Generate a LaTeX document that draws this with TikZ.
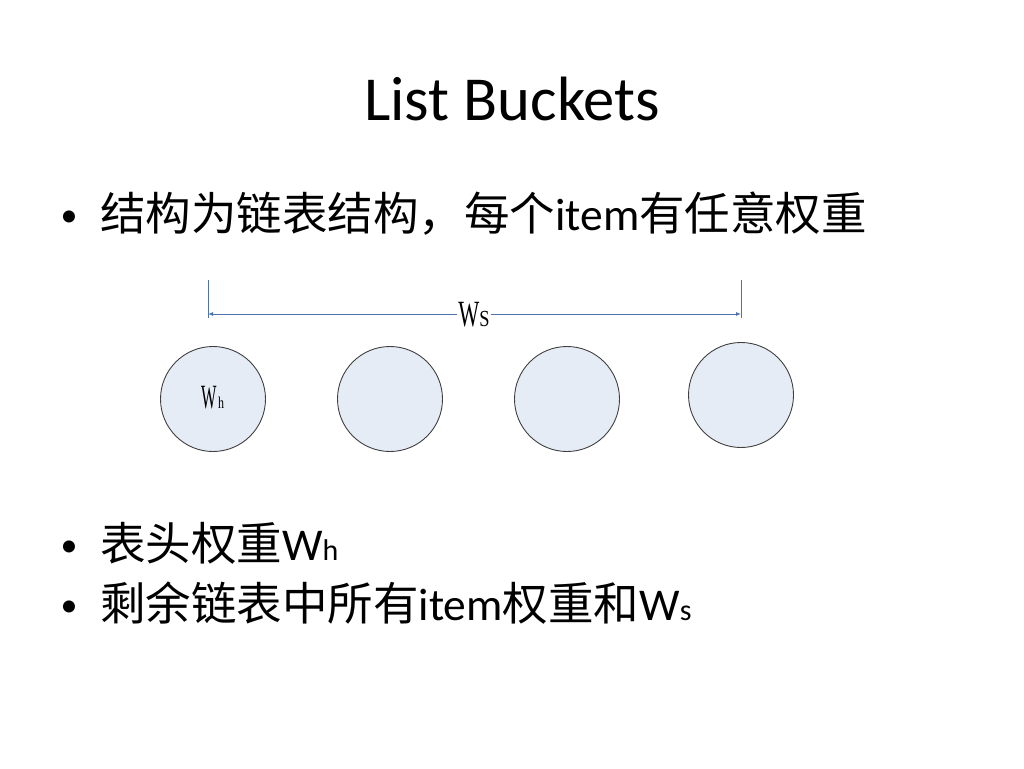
\documentclass[tikz,border=0pt]{standalone}
\usepackage{fontspec}
\setmainfont{Carlito}
\newfontfamily\cjk{Noto Sans CJK SC}
\newfontfamily\serifw{Liberation Serif}
\usetikzlibrary{arrows.meta}
\definecolor{cfill}{HTML}{E6ECF6}
\definecolor{cline}{HTML}{404040}
\definecolor{dimc}{HTML}{4F73A8}
\tikzset{
  bucket/.style={circle, draw=cline, line width=0.9pt, fill=cfill, minimum size=105pt, inner sep=0pt},
  bodytext/.style={anchor=base west, inner sep=0pt, font=\fontsize{45.5}{50}\selectfont},
  bul/.style={anchor=base, inner sep=0pt, font=\fontsize{34}{40}\selectfont},
  dimline/.style={draw=dimc, line width=0.9pt},
}
\begin{document}
\begin{tikzpicture}[x=1pt,y=-1pt]
\useasboundingbox (0,0) rectangle (1024,768);
% title
\node[anchor=base, inner sep=0pt, font=\fontsize{62.6}{70}\selectfont] (title) at (512,120) {List Buckets};
% bullet 1
\node[bul] (b1) at (69,226) {•};
\node[bodytext] (t1) at (100,230) {{\cjk 结构为链表结构，每个}item{\cjk 有任意权重}};
% circles
\node[bucket] (c1) at (213,399) {};
\node[bucket] (c2) at (390,399) {};
\node[bucket] (c3) at (567,399) {};
\node[bucket] (c4) at (741,395) {};
\node[anchor=base west, inner sep=0pt, font=\serifw\fontsize{34}{36}\selectfont] (wh) at (201,408) {\scalebox{0.48}[1.0]{W}\kern1.5pt{\fontsize{15}{16}\selectfont\scalebox{0.8}[1.1]{h}}};
% dimension
\coordinate (lt) at (208,280);
\coordinate (lb) at (208,318);
\coordinate (rt) at (741,280);
\coordinate (rb) at (741,318);
\coordinate (la) at (208,314);
\coordinate (ra) at (741,314);
\draw[dimline] (lt) -- (lb);
\draw[dimline] (rt) -- (rb);
\node[fill=white, inner sep=1.5pt, anchor=base, font=\serifw\fontsize{37}{40}\selectfont] (ws) at (474,326) {\scalebox{0.6}[1.0]{W}{\fontsize{23}{26}\selectfont\scalebox{0.8}[1.0]{S}}};
\draw[dimline, -{Latex[length=5pt,width=4pt]}] (ws.east |- ra) -- (ra);
\draw[dimline, -{Latex[length=5pt,width=4pt]}] (ws.west |- la) -- (la);
% bullets 2,3
\node[bul] (b2) at (69,556) {•};
\node[bodytext] (t2) at (100,560) {{\cjk 表头权重}W{\fontsize{30}{32}\selectfont h}};
\node[bul] (b3) at (69,616) {•};
\node[bodytext] (t3) at (100,620) {{\cjk 剩余链表中所有}item{\cjk 权重和}W{\fontsize{30}{32}\selectfont s}};
\end{tikzpicture}
\end{document}
